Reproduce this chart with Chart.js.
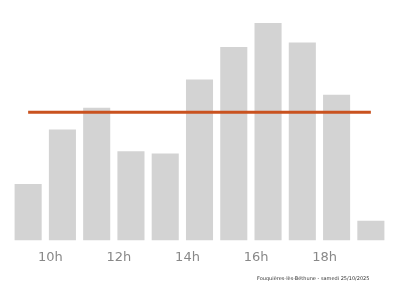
<!DOCTYPE html>
<html lang="fr">
<head>
  <meta charset="UTF-8" />
  <title>Fréquentation</title>
  <script src="https://cdn.jsdelivr.net/npm/chart.js"></script>
  <style>
    body {
      margin: 0;
      background: white;
      font-family: 'DejaVu Sans', sans-serif;
    }
    .wrap {
      position: relative;
      width: 400px;
      height: 286px;
    }
    .caption {
      position: absolute;
      left: 257px;
      top: 275px;
      font-size: 5px;
      color: #333;
      white-space: nowrap;
    }
  </style>
</head>
<body>

<div class="wrap">
  <canvas id="chart" width="400" height="286"></canvas>
  <div class="caption">Fouquières-lès-Béthune - samedi 25/10/2025</div>
</div>

<script>
  const hours = ["9h", "10h", "11h", "12h", "13h", "14h", "15h", "16h", "17h", "18h", "19h"];
  const affluence = [26, 51, 61, 41, 40, 74, 89, 100, 91, 67, 9];
  const shownLabels = ["10h", "12h", "14h", "16h", "18h"];
  const average = 59;

  new Chart(document.getElementById("chart"), {
    data: {
      labels: hours,
      datasets: [
        {
          type: "line",
          data: hours.map(() => average),
          borderColor: "#c9521f",
          borderWidth: 3,
          pointRadius: 0,
          order: 0
        },
        {
          type: "bar",
          data: affluence,
          backgroundColor: "#d3d3d3",
          barPercentage: 0.79,
          categoryPercentage: 1,
          order: 1
        }
      ]
    },
    options: {
      responsive: false,
      animation: false,
      layout: { padding: { top: 23, left: 11, right: 12, bottom: 12 } },
      plugins: {
        legend: { display: false },
        tooltip: { enabled: false }
      },
      scales: {
        x: {
          grid: { display: false, drawTicks: false },
          border: { display: false },
          ticks: {
            autoSkip: false,
            maxRotation: 0,
            padding: 9,
            labelOffset: -12,
            color: "#888",
            font: { family: "DejaVu Sans", size: 13 },
            callback: function (value) {
              const lbl = this.getLabelForValue(value);
              return shownLabels.includes(lbl) ? lbl : "";
            }
          }
        },
        y: {
          display: false,
          min: 0,
          max: 100
        }
      }
    }
  });
</script>

</body>
</html>
